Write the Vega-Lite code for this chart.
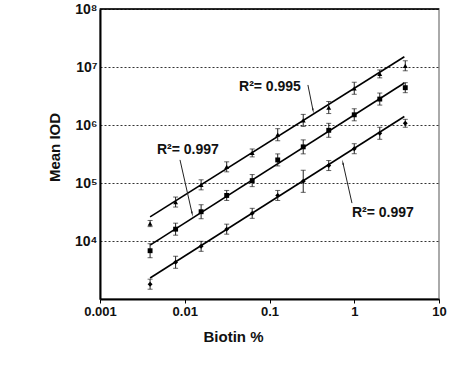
{
  "$schema": "https://vega.github.io/schema/vega-lite/v6.json",
  "autosize": {"type": "none"},
  "padding": {"left": 100, "top": 9, "right": 19, "bottom": 66},
  "width": 339,
  "height": 290,
  "background": "white",
  "config": {
    "font": "Liberation Sans",
    "view": {"stroke": "#aaaaaa", "strokeWidth": 2},
    "axis": {"labelFontWeight": "bold", "titleFontWeight": "bold", "labelColor": "#111", "titleColor": "#111"}
  },
  "datasets": {
    "pts": [
      {"series": "A", "x": 0.0039, "y": 20000, "lo": 17700, "hi": 22600},
      {"series": "A", "x": 0.0078, "y": 47000, "lo": 38500, "hi": 57300},
      {"series": "A", "x": 0.0156, "y": 93000, "lo": 76200, "hi": 113500},
      {"series": "A", "x": 0.03125, "y": 190000, "lo": 155700, "hi": 231800},
      {"series": "A", "x": 0.0625, "y": 330000, "lo": 282000, "hi": 386000},
      {"series": "A", "x": 0.125, "y": 680000, "lo": 535000, "hi": 864000},
      {"series": "A", "x": 0.25, "y": 1200000, "lo": 945000, "hi": 1524000},
      {"series": "A", "x": 0.5, "y": 2000000, "lo": 1575000, "hi": 2540000},
      {"series": "A", "x": 1, "y": 4300000, "lo": 3386000, "hi": 5461000},
      {"series": "A", "x": 2, "y": 7600000, "lo": 6496000, "hi": 8892000},
      {"series": "A", "x": 4, "y": 10500000, "lo": 8607000, "hi": 12810000},
      {"series": "B", "x": 0.0039, "y": 6800, "lo": 5150, "hi": 8980},
      {"series": "B", "x": 0.0078, "y": 16000, "lo": 12600, "hi": 20300},
      {"series": "B", "x": 0.0156, "y": 32000, "lo": 24200, "hi": 42200},
      {"series": "B", "x": 0.03125, "y": 61000, "lo": 50000, "hi": 74400},
      {"series": "B", "x": 0.0625, "y": 110000, "lo": 86600, "hi": 139700},
      {"series": "B", "x": 0.125, "y": 250000, "lo": 196900, "hi": 317500},
      {"series": "B", "x": 0.25, "y": 420000, "lo": 318000, "hi": 554000},
      {"series": "B", "x": 0.5, "y": 810000, "lo": 614000, "hi": 1069000},
      {"series": "B", "x": 1, "y": 1500000, "lo": 1181000, "hi": 1905000},
      {"series": "B", "x": 2, "y": 2800000, "lo": 2205000, "hi": 3556000},
      {"series": "B", "x": 4, "y": 4400000, "lo": 3607000, "hi": 5368000},
      {"series": "C", "x": 0.0039, "y": 1800, "lo": 1475, "hi": 2196},
      {"series": "C", "x": 0.0078, "y": 4300, "lo": 3386, "hi": 5461},
      {"series": "C", "x": 0.0156, "y": 8100, "lo": 6640, "hi": 9880},
      {"series": "C", "x": 0.03125, "y": 16000, "lo": 13110, "hi": 19520},
      {"series": "C", "x": 0.0625, "y": 30000, "lo": 24590, "hi": 36600},
      {"series": "C", "x": 0.125, "y": 61000, "lo": 50000, "hi": 74400},
      {"series": "C", "x": 0.25, "y": 107000, "lo": 69000, "hi": 165900},
      {"series": "C", "x": 0.5, "y": 200000, "lo": 163900, "hi": 244000},
      {"series": "C", "x": 1, "y": 390000, "lo": 319700, "hi": 475800},
      {"series": "C", "x": 2, "y": 720000, "lo": 567000, "hi": 914000},
      {"series": "C", "x": 4, "y": 1070000, "lo": 914500, "hi": 1252000}
    ],
    "fits": [
      {"series": "A", "x": 0.0039, "y": 26000},
      {"series": "A", "x": 3.9, "y": 15000000},
      {"series": "B", "x": 0.0039, "y": 8500},
      {"series": "B", "x": 3.9, "y": 5300000},
      {"series": "C", "x": 0.0039, "y": 2300},
      {"series": "C", "x": 3.9, "y": 1400000}
    ],
    "notes": [
      {"x": 0.0437, "y": 4600000, "label": "R²= 0.995"},
      {"x": 0.0047, "y": 370000, "label": "R²= 0.997"},
      {"x": 0.94, "y": 30000, "label": "R²= 0.997"}
    ],
    "arrows": [
      {"x": 0.284, "y": 4900000, "x2": 0.326, "y2": 1800000, "angle": 169},
      {"x": 0.00879, "y": 250000, "x2": 0.0122, "y2": 30000, "angle": 167},
      {"x": 0.94, "y": 45000, "x2": 0.736, "y2": 220000, "angle": 347}
    ],
    "top": [{"y": 100000000}]
  },
  "layer": [
    {
      "data": {"name": "top"},
      "mark": {"type": "rule", "color": "black", "strokeWidth": 1.5},
      "encoding": {
        "y": {
          "field": "y", "type": "quantitative",
          "title": "Mean IOD",
          "scale": {"type": "log", "domain": [1000, 100000000], "nice": false},
          "axis": {
            "values": [10000, 100000, 1000000, 10000000, 100000000],
            "labelExpr": "'10' + ['⁰','¹','²','³','⁴','⁵','⁶','⁷','⁸'][round(log(datum.value)/LN10)]",
            "labelFontSize": 14,
            "labelPadding": 3,
            "ticks": false,
            "grid": true,
            "gridDash": [2, 2],
            "gridColor": "#333",
            "gridWidth": 1,
            "domainColor": "black",
            "domainWidth": 2,
            "titleFontSize": 15,
            "titleX": -38,
            "titleY": 138,
            "titleAlign": "center"
          }
        }
      }
    },
    {
      "data": {"name": "fits"},
      "mark": {"type": "line", "color": "black", "strokeWidth": 1.6},
      "encoding": {
        "x": {
          "field": "x", "type": "quantitative",
          "title": "Biotin %",
          "scale": {"type": "log", "domain": [0.001, 10], "nice": false},
          "axis": {
            "values": [0.001, 0.01, 0.1, 1, 10],
            "format": "~g",
            "labelFontSize": 13,
            "labelFlush": false,
            "labelPadding": 2,
            "tickSize": 4,
            "tickColor": "black",
            "grid": false,
            "domainColor": "black",
            "domainWidth": 2,
            "titleFontSize": 15,
            "titleX": 133,
            "titleY": 42,
            "titleAlign": "center",
            "titleBaseline": "alphabetic"
          }
        },
        "y": {"field": "y", "type": "quantitative", "title": "Mean IOD"},
        "detail": {"field": "series"}
      }
    },
    {
      "data": {"name": "pts"},
      "mark": {"type": "errorbar", "ticks": {"size": 5}, "color": "#222", "thickness": 1},
      "encoding": {
        "x": {"field": "x", "type": "quantitative", "title": "Biotin %"},
        "y": {"field": "lo", "type": "quantitative", "title": "Mean IOD"},
        "y2": {"field": "hi"}
      }
    },
    {
      "data": {"name": "pts"},
      "mark": {"type": "point", "filled": true, "color": "black", "opacity": 1, "size": 24},
      "encoding": {
        "x": {"field": "x", "type": "quantitative", "title": "Biotin %"},
        "y": {"field": "y", "type": "quantitative", "title": "Mean IOD"},
        "shape": {
          "field": "series", "type": "nominal",
          "scale": {"domain": ["A", "B", "C"], "range": ["triangle-up", "square", "diamond"]},
          "legend": null
        }
      }
    },
    {
      "data": {"name": "notes"},
      "mark": {"type": "text", "align": "left", "baseline": "middle", "fontSize": 14, "fontWeight": "bold", "color": "#111"},
      "encoding": {
        "x": {"field": "x", "type": "quantitative", "title": "Biotin %"},
        "y": {"field": "y", "type": "quantitative", "title": "Mean IOD"},
        "text": {"field": "label"}
      }
    },
    {
      "data": {"name": "arrows"},
      "mark": {"type": "rule", "color": "#222", "strokeWidth": 1},
      "encoding": {
        "x": {"field": "x", "type": "quantitative", "title": "Biotin %"},
        "y": {"field": "y", "type": "quantitative", "title": "Mean IOD"},
        "x2": {"field": "x2"},
        "y2": {"field": "y2"}
      }
    },
    {
      "data": {"name": "arrows"},
      "mark": {"type": "point", "shape": "wedge", "filled": true, "color": "#222", "opacity": 1, "size": 40},
      "encoding": {
        "x": {"field": "x2", "type": "quantitative", "title": "Biotin %"},
        "y": {"field": "y2", "type": "quantitative", "title": "Mean IOD"},
        "angle": {"field": "angle", "type": "quantitative", "scale": null}
      }
    }
  ]
}
